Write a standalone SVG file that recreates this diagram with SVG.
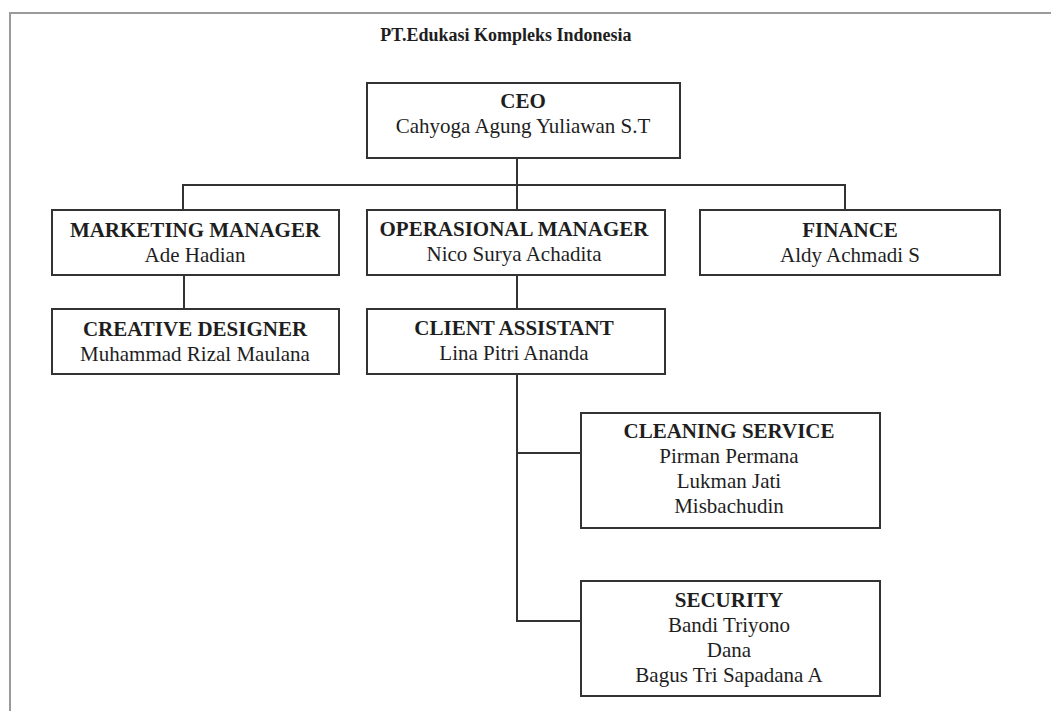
<svg xmlns="http://www.w3.org/2000/svg" width="1051" height="711" viewBox="0 0 1051 711">
<style>
.frame{fill:none;stroke:#9a9a9a;stroke-width:2}
.box{fill:#fff;stroke:#333;stroke-width:2}
.ln{fill:none;stroke:#333;stroke-width:2}
text{font-family:"Liberation Serif","Times New Roman",serif;font-size:21px;fill:#1e1e1e;text-anchor:middle}
.t{font-weight:bold}
.title{font-weight:bold;font-size:18px}
</style>
<rect width="1051" height="711" fill="#fff"/>
<rect class="frame" x="10" y="13" width="1060" height="720"/>
<text class="title" x="506" y="41">PT.Edukasi Kompleks Indonesia</text>
<g id="connectors">
<path class="ln" d="M517 158V185M183 210V185H845V210M517 185V210"/>
<path class="ln" d="M184 275V309"/>
<path class="ln" d="M517 275V309"/>
<path class="ln" d="M517 374V621H581M517 453H581"/>
</g>
<g id="ceo">
<rect class="box" x="367" y="83" width="313" height="75"/>
<text class="t" x="523" y="108">CEO</text>
<text x="523" y="133">Cahyoga Agung Yuliawan S.T</text>
</g>
<g id="marketing">
<rect class="box" x="52" y="210" width="287" height="65"/>
<text class="t" x="195" y="237">MARKETING MANAGER</text>
<text x="195" y="262">Ade Hadian</text>
</g>
<g id="operasional">
<rect class="box" x="367" y="210" width="298" height="65"/>
<text class="t" x="514" y="236">OPERASIONAL MANAGER</text>
<text x="514" y="261">Nico Surya Achadita</text>
</g>
<g id="finance">
<rect class="box" x="700" y="210" width="300" height="65"/>
<text class="t" x="850" y="237">FINANCE</text>
<text x="850" y="262">Aldy Achmadi S</text>
</g>
<g id="creative">
<rect class="box" x="52" y="309" width="287" height="65"/>
<text class="t" x="195" y="336">CREATIVE DESIGNER</text>
<text x="195" y="361">Muhammad Rizal Maulana</text>
</g>
<g id="client">
<rect class="box" x="367" y="309" width="298" height="65"/>
<text class="t" x="514" y="335">CLIENT ASSISTANT</text>
<text x="514" y="360">Lina Pitri Ananda</text>
</g>
<g id="cleaning">
<rect class="box" x="581" y="413" width="299" height="115"/>
<text class="t" x="729" y="438">CLEANING SERVICE</text>
<text x="729" y="463">Pirman Permana</text>
<text x="729" y="488">Lukman Jati</text>
<text x="729" y="513">Misbachudin</text>
</g>
<g id="security">
<rect class="box" x="581" y="581" width="299" height="115"/>
<text class="t" x="729" y="607">SECURITY</text>
<text x="729" y="632">Bandi Triyono</text>
<text x="729" y="657">Dana</text>
<text x="729" y="682">Bagus Tri Sapadana A</text>
</g>
</svg>
